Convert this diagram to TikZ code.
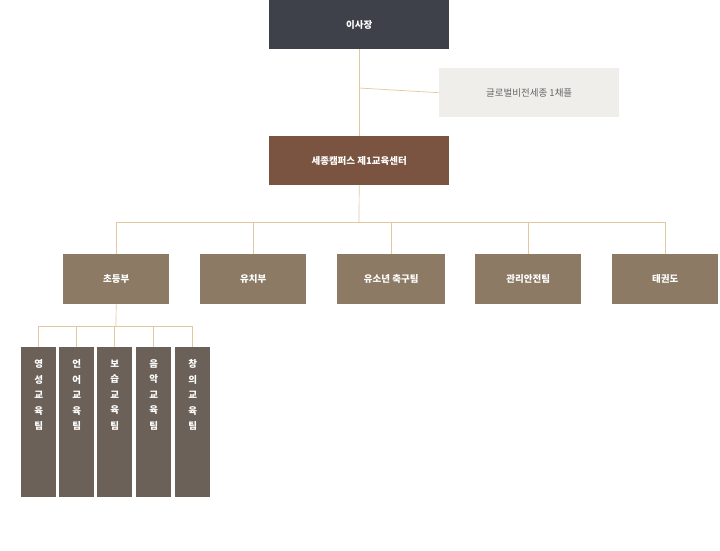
\documentclass[tikz,border=0pt]{standalone}
\usepackage{fontspec}
\setmainfont{Noto Sans CJK KR}
\begin{document}
\begin{tikzpicture}[x=1pt,y=-1pt,
  box/.style={draw=none,anchor=north west,inner sep=0pt,font=\fontsize{9.5}{11}\selectfont\bfseries,text=white},
  ln/.style={draw=lineC,line width=0.7pt}]
\definecolor{lineC}{HTML}{E2C7A0}
\definecolor{topC}{HTML}{3E414A}
\definecolor{chapC}{HTML}{EFEEEA}
\definecolor{brC}{HTML}{7A5441}
\definecolor{midC}{HTML}{8C7A64}
\definecolor{vC}{HTML}{6B6158}
\definecolor{grayT}{HTML}{666666}
\useasboundingbox[fill=white] (0,0) rectangle (720,550);
\node[box,fill=topC,minimum width=180pt,minimum height=49pt] (top) at (269,0) {이사장};
\node[box,fill=chapC,text=grayT,font=\fontsize{9.5}{11}\selectfont,minimum width=180pt,minimum height=49pt] (chap) at (439,68) {글로벌비전세종 1채플};
\node[box,fill=brC,minimum width=180pt,minimum height=49pt] (ctr) at (269,136) {세종캠퍼스 제1교육센터};
\foreach \n/\x/\w/\t in {a/63/106/초등부,b/200/106/유치부,c/337/108/유소년 축구팀,d/475/106/관리안전팀,e/612/106/태권도}{
  \node[box,fill=midC,minimum width=\w pt,minimum height=50pt] (\n) at (\x,254) {\t};
}
\foreach \n/\x/\t in {v1/21/{영\\성\\교\\육\\팀},v2/59/{언\\어\\교\\육\\팀},v3/97/{보\\습\\교\\육\\팀},v4/136/{음\\악\\교\\육\\팀},v5/175/{창\\의\\교\\육\\팀}}{
  \node[draw=none,fill=vC,anchor=north west,minimum width=35pt,minimum height=150pt,inner sep=0pt] (\n) at (\x,347) {};
  \node[anchor=north,text=white,align=center,font=\fontsize{9.5}{15.5}\selectfont\bfseries] at ([yshift=-9pt]\n.north) {\t};
}
\coordinate (j1) at (359,88);
\draw[ln] (top.south) -- (ctr.north);
\draw[ln] (j1) -- (chap.west);
\coordinate (h) at (359,222);
\draw[ln] (ctr.south) -- (h);
\draw[ln] (a.north|-h) -- (e.north|-h);
\foreach \n in {a,b,c,d,e} \draw[ln] (\n.north|-h) -- (\n.north);
\coordinate (h2) at (116,326);
\draw[ln] (a.south) -- (h2);
\draw[ln] (v1.north|-h2) -- (v5.north|-h2);
\foreach \n in {v1,v2,v3,v4,v5} \draw[ln] (\n.north|-h2) -- (\n.north);
\end{tikzpicture}
\end{document}
